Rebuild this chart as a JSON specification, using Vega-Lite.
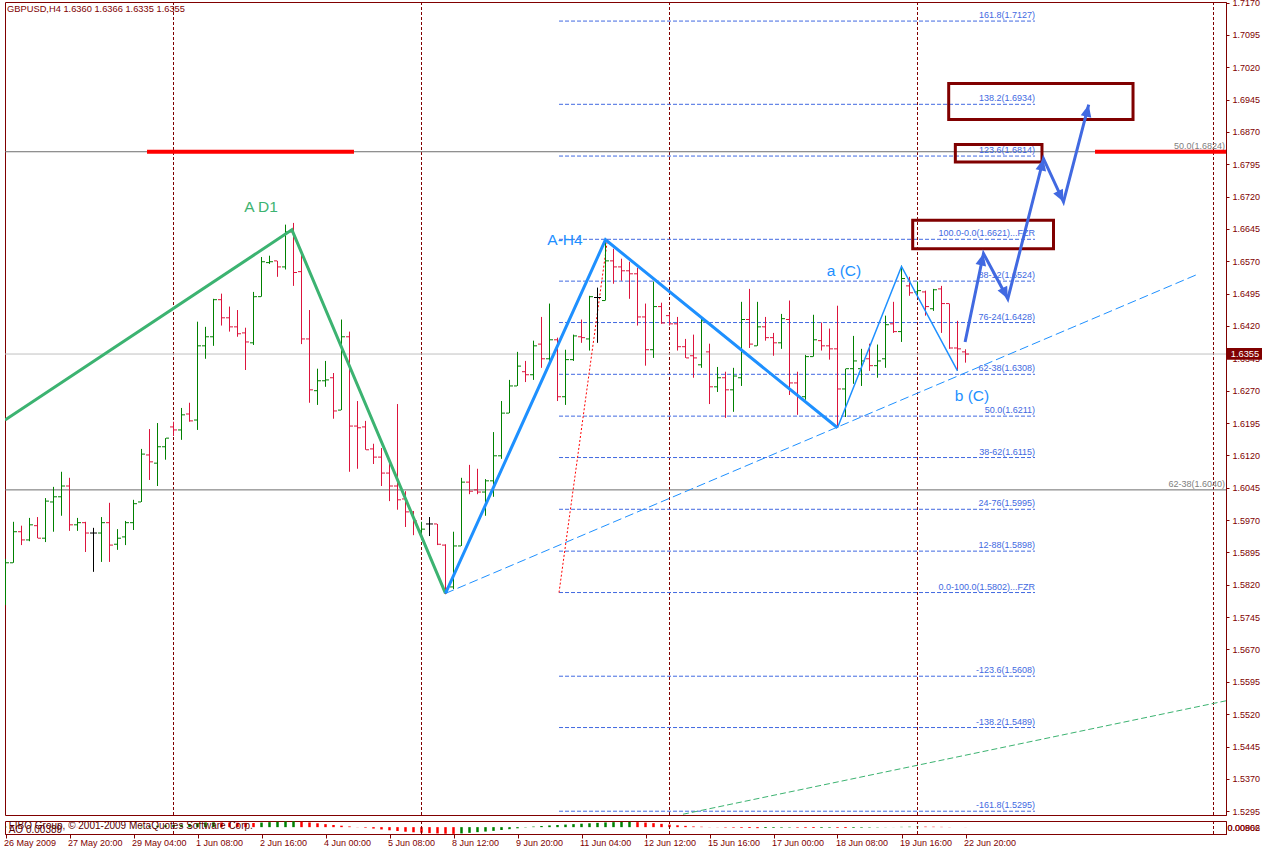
{
"$schema":"https://vega.github.io/schema/vega-lite/v6.json",
"background":"#ffffff",
"padding":{"left":3,"top":-2,"right":0,"bottom":0},
"config":{
 "view":{"stroke":"#800000","strokeWidth":1},
 "axis":{"domainColor":"#800000","tickColor":"#800000","labelColor":"#800000","labelFont":"Liberation Sans","labelFontSize":9,"grid":false,"labelOverlap":false,"labelSeparation":0},
 "concat":{"spacing":3},
 "text":{"font":"Liberation Sans"}
},
"datasets":{
 "bars":[
{"i":0,"o":1.5787,"h":1.5880,"l":1.5773,"c":1.5871},
{"i":1,"o":1.5871,"h":1.5966,"l":1.5871,"c":1.5943},
{"i":2,"o":1.5943,"h":1.5957,"l":1.5912,"c":1.5924},
{"i":3,"o":1.5924,"h":1.5975,"l":1.5921,"c":1.5959},
{"i":4,"o":1.5957,"h":1.5977,"l":1.5928,"c":1.5928},
{"i":5,"o":1.5928,"h":1.6021,"l":1.5919,"c":1.6014},
{"i":6,"o":1.6012,"h":1.6047,"l":1.5943,"c":1.6024},
{"i":7,"o":1.6024,"h":1.6082,"l":1.5980,"c":1.6049},
{"i":8,"o":1.6049,"h":1.6068,"l":1.5945,"c":1.5959},
{"i":9,"o":1.5959,"h":1.5975,"l":1.5945,"c":1.5964},
{"i":10,"o":1.5964,"h":1.5966,"l":1.5896,"c":1.5940},
{"i":11,"o":1.5940,"h":1.5952,"l":1.5850,"c":1.5940},
{"i":12,"o":1.5940,"h":1.5977,"l":1.5873,"c":1.5964},
{"i":13,"o":1.5964,"h":1.6010,"l":1.5873,"c":1.5912},
{"i":14,"o":1.5914,"h":1.5949,"l":1.5901,"c":1.5928},
{"i":15,"o":1.5931,"h":1.5968,"l":1.5912,"c":1.5964},
{"i":16,"o":1.5964,"h":1.6017,"l":1.5947,"c":1.6008},
{"i":17,"o":1.6012,"h":1.6135,"l":1.6012,"c":1.6123},
{"i":18,"o":1.6121,"h":1.6181,"l":1.6063,"c":1.6105},
{"i":19,"o":1.6102,"h":1.6195,"l":1.6049,"c":1.6140},
{"i":20,"o":1.6140,"h":1.6160,"l":1.6110,"c":1.6160},
{"i":21,"o":1.6186,"h":1.6198,"l":1.6165,"c":1.6179},
{"i":22,"o":1.6179,"h":1.6230,"l":1.6156,"c":1.6214},
{"i":23,"o":1.6216,"h":1.6242,"l":1.6198,"c":1.6200},
{"i":24,"o":1.6202,"h":1.6430,"l":1.6179,"c":1.6374},
{"i":25,"o":1.6374,"h":1.6418,"l":1.6344,"c":1.6395},
{"i":26,"o":1.6395,"h":1.6483,"l":1.6374,"c":1.6481},
{"i":27,"o":1.6481,"h":1.6495,"l":1.6421,"c":1.6439},
{"i":28,"o":1.6439,"h":1.6465,"l":1.6407,"c":1.6418},
{"i":29,"o":1.6418,"h":1.6457,"l":1.6395,"c":1.6402},
{"i":30,"o":1.6404,"h":1.6416,"l":1.6318,"c":1.6383},
{"i":31,"o":1.6381,"h":1.6499,"l":1.6376,"c":1.6488},
{"i":32,"o":1.6488,"h":1.6580,"l":1.6488,"c":1.6569},
{"i":33,"o":1.6567,"h":1.6583,"l":1.6564,"c":1.6569},
{"i":34,"o":1.6571,"h":1.6571,"l":1.6534,"c":1.6557},
{"i":35,"o":1.6557,"h":1.6655,"l":1.6551,"c":1.6638},
{"i":36,"o":1.6638,"h":1.6659,"l":1.6513,"c":1.6544},
{"i":37,"o":1.6546,"h":1.6585,"l":1.6378,"c":1.6390},
{"i":38,"o":1.6390,"h":1.6457,"l":1.6242,"c":1.6272},
{"i":39,"o":1.6270,"h":1.6321,"l":1.6237,"c":1.6293},
{"i":40,"o":1.6293,"h":1.6339,"l":1.6279,"c":1.6295},
{"i":41,"o":1.6300,"h":1.6311,"l":1.6205,"c":1.6223},
{"i":42,"o":1.6225,"h":1.6435,"l":1.6225,"c":1.6395},
{"i":43,"o":1.6395,"h":1.6407,"l":1.6082,"c":1.6188},
{"i":44,"o":1.6188,"h":1.6246,"l":1.6089,"c":1.6184},
{"i":45,"o":1.6186,"h":1.6200,"l":1.6133,"c":1.6133},
{"i":46,"o":1.6135,"h":1.6147,"l":1.6100,"c":1.6116},
{"i":47,"o":1.6116,"h":1.6137,"l":1.6049,"c":1.6079},
{"i":48,"o":1.6079,"h":1.6105,"l":1.6014,"c":1.6049},
{"i":49,"o":1.6049,"h":1.6239,"l":1.5994,"c":1.6017},
{"i":50,"o":1.6019,"h":1.6037,"l":1.5954,"c":1.5989},
{"i":51,"o":1.5989,"h":1.5991,"l":1.5935,"c":1.5968},
{"i":52,"o":1.5945,"h":1.5966,"l":1.5940,"c":1.5949},
{"i":53,"o":1.5961,"h":1.5977,"l":1.5933,"c":1.5961},
{"i":54,"o":1.5961,"h":1.5961,"l":1.5912,"c":1.5914},
{"i":55,"o":1.5912,"h":1.5914,"l":1.5798,"c":1.5812},
{"i":56,"o":1.5815,"h":1.5943,"l":1.5810,"c":1.5910},
{"i":57,"o":1.5910,"h":1.6068,"l":1.5910,"c":1.6058},
{"i":58,"o":1.6058,"h":1.6098,"l":1.6030,"c":1.6037},
{"i":59,"o":1.6040,"h":1.6089,"l":1.6030,"c":1.6035},
{"i":60,"o":1.6035,"h":1.6065,"l":1.5980,"c":1.6061},
{"i":61,"o":1.6061,"h":1.6174,"l":1.6024,"c":1.6119},
{"i":62,"o":1.6119,"h":1.6246,"l":1.6112,"c":1.6218},
{"i":63,"o":1.6218,"h":1.6295,"l":1.6218,"c":1.6281},
{"i":64,"o":1.6281,"h":1.6360,"l":1.6281,"c":1.6327},
{"i":65,"o":1.6314,"h":1.6339,"l":1.6290,"c":1.6307},
{"i":66,"o":1.6307,"h":1.6386,"l":1.6295,"c":1.6374},
{"i":67,"o":1.6378,"h":1.6441,"l":1.6323,"c":1.6344},
{"i":68,"o":1.6344,"h":1.6472,"l":1.6332,"c":1.6388},
{"i":69,"o":1.6388,"h":1.6393,"l":1.6246,"c":1.6256},
{"i":70,"o":1.6256,"h":1.6365,"l":1.6237,"c":1.6342},
{"i":71,"o":1.6342,"h":1.6400,"l":1.6339,"c":1.6397},
{"i":72,"o":1.6395,"h":1.6435,"l":1.6381,"c":1.6393},
{"i":73,"o":1.6390,"h":1.6490,"l":1.6363,"c":1.6488},
{"i":74,"o":1.6486,"h":1.6509,"l":1.6381,"c":1.6486},
{"i":75,"o":1.6479,"h":1.6618,"l":1.6479,"c":1.6571},
{"i":76,"o":1.6571,"h":1.6599,"l":1.6518,"c":1.6557},
{"i":77,"o":1.6557,"h":1.6576,"l":1.6525,"c":1.6548},
{"i":78,"o":1.6548,"h":1.6569,"l":1.6483,"c":1.6541},
{"i":79,"o":1.6541,"h":1.6555,"l":1.6421,"c":1.6441},
{"i":80,"o":1.6441,"h":1.6472,"l":1.6328,"c":1.6365},
{"i":81,"o":1.6365,"h":1.6523,"l":1.6346,"c":1.6465},
{"i":82,"o":1.6465,"h":1.6474,"l":1.6425,"c":1.6427},
{"i":83,"o":1.6444,"h":1.6448,"l":1.6421,"c":1.6425},
{"i":84,"o":1.6425,"h":1.6441,"l":1.6363,"c":1.6372},
{"i":85,"o":1.6372,"h":1.6390,"l":1.6346,"c":1.6346},
{"i":86,"o":1.6351,"h":1.6400,"l":1.6300,"c":1.6346},
{"i":87,"o":1.6330,"h":1.6437,"l":1.6323,"c":1.6432},
{"i":88,"o":1.6360,"h":1.6379,"l":1.6239,"c":1.6279},
{"i":89,"o":1.6279,"h":1.6325,"l":1.6267,"c":1.6300},
{"i":90,"o":1.6300,"h":1.6314,"l":1.6207,"c":1.6272},
{"i":91,"o":1.6272,"h":1.6323,"l":1.6221,"c":1.6304},
{"i":92,"o":1.6300,"h":1.6476,"l":1.6281,"c":1.6435},
{"i":93,"o":1.6435,"h":1.6506,"l":1.6369,"c":1.6378},
{"i":94,"o":1.6374,"h":1.6476,"l":1.6374,"c":1.6418},
{"i":95,"o":1.6418,"h":1.6441,"l":1.6386,"c":1.6393},
{"i":96,"o":1.6393,"h":1.6404,"l":1.6351,"c":1.6381},
{"i":97,"o":1.6381,"h":1.6448,"l":1.6367,"c":1.6437},
{"i":98,"o":1.6435,"h":1.6479,"l":1.6260,"c":1.6288},
{"i":99,"o":1.6288,"h":1.6314,"l":1.6214,"c":1.6256},
{"i":100,"o":1.6256,"h":1.6353,"l":1.6249,"c":1.6349},
{"i":101,"o":1.6349,"h":1.6446,"l":1.6349,"c":1.6388},
{"i":102,"o":1.6386,"h":1.6428,"l":1.6363,"c":1.6374},
{"i":103,"o":1.6374,"h":1.6414,"l":1.6342,"c":1.6367},
{"i":104,"o":1.6367,"h":1.6467,"l":1.6184,"c":1.6274},
{"i":105,"o":1.6274,"h":1.6321,"l":1.6209,"c":1.6321},
{"i":106,"o":1.6321,"h":1.6397,"l":1.6286,"c":1.6339},
{"i":107,"o":1.6321,"h":1.6367,"l":1.6281,"c":1.6339},
{"i":108,"o":1.6344,"h":1.6379,"l":1.6316,"c":1.6328},
{"i":109,"o":1.6328,"h":1.6377,"l":1.6300,"c":1.6339},
{"i":110,"o":1.6344,"h":1.6444,"l":1.6323,"c":1.6423},
{"i":111,"o":1.6425,"h":1.6476,"l":1.6404,"c":1.6407},
{"i":112,"o":1.6407,"h":1.6560,"l":1.6383,"c":1.6530},
{"i":113,"o":1.6513,"h":1.6534,"l":1.6490,"c":1.6497},
{"i":114,"o":1.6499,"h":1.6523,"l":1.6490,"c":1.6502},
{"i":115,"o":1.6499,"h":1.6502,"l":1.6444,"c":1.6465},
{"i":116,"o":1.6460,"h":1.6506,"l":1.6455,"c":1.6504},
{"i":117,"o":1.6506,"h":1.6513,"l":1.6404,"c":1.6472},
{"i":118,"o":1.6472,"h":1.6472,"l":1.6367,"c":1.6369},
{"i":119,"o":1.6369,"h":1.6432,"l":1.6316,"c":1.6367},
{"i":120,"o":1.6360,"h":1.6366,"l":1.6335,"c":1.6355}
 ],
 "ao":[
{"i":0,"ao":0.0004},{"i":1,"ao":0.0003},{"i":2,"ao":0.0002},{"i":3,"ao":0.0003},{"i":4,"ao":0.0002},{"i":5,"ao":0.0001},{"i":6,"ao":0.0003},{"i":7,"ao":0.0005},{"i":8,"ao":0.0004},{"i":9,"ao":0.0003},
{"i":10,"ao":0.0002},{"i":11,"ao":0.0001},{"i":12,"ao":-0.0001},{"i":13,"ao":-0.0002},{"i":14,"ao":-0.0001},{"i":15,"ao":0.0001},{"i":16,"ao":0.0003},{"i":17,"ao":0.0008},{"i":18,"ao":0.0014},{"i":19,"ao":0.0020},
{"i":20,"ao":0.0026},{"i":21,"ao":0.0031},{"i":22,"ao":0.0036},{"i":23,"ao":0.0045},{"i":24,"ao":0.0055},{"i":25,"ao":0.0066},{"i":26,"ao":0.0068},{"i":27,"ao":0.0066},{"i":28,"ao":0.0064},{"i":29,"ao":0.0062},
{"i":30,"ao":0.0060},{"i":31,"ao":0.0058},{"i":32,"ao":0.0064},{"i":33,"ao":0.0070},{"i":34,"ao":0.0076},{"i":35,"ao":0.0080},{"i":36,"ao":0.0082},{"i":37,"ao":0.0076},{"i":38,"ao":0.0066},{"i":39,"ao":0.0054},
{"i":40,"ao":0.0042},{"i":41,"ao":0.0030},{"i":42,"ao":0.0020},{"i":43,"ao":0.0010},{"i":44,"ao":0.0002},{"i":45,"ao":-0.0008},{"i":46,"ao":-0.0020},{"i":47,"ao":-0.0032},{"i":48,"ao":-0.0044},{"i":49,"ao":-0.0054},
{"i":50,"ao":-0.0064},{"i":51,"ao":-0.0072},{"i":52,"ao":-0.0078},{"i":53,"ao":-0.0084},{"i":54,"ao":-0.0088},{"i":55,"ao":-0.0092},{"i":56,"ao":-0.0094},{"i":57,"ao":-0.0088},{"i":58,"ao":-0.0080},{"i":59,"ao":-0.0070},
{"i":60,"ao":-0.0062},{"i":61,"ao":-0.0052},{"i":62,"ao":-0.0040},{"i":63,"ao":-0.0028},{"i":64,"ao":-0.0016},{"i":65,"ao":-0.0004},{"i":66,"ao":0.0008},{"i":67,"ao":0.0016},{"i":68,"ao":0.0024},{"i":69,"ao":0.0030},
{"i":70,"ao":0.0036},{"i":71,"ao":0.0042},{"i":72,"ao":0.0048},{"i":73,"ao":0.0054},{"i":74,"ao":0.0060},{"i":75,"ao":0.0066},{"i":76,"ao":0.0070},{"i":77,"ao":0.0072},{"i":78,"ao":0.0074},{"i":79,"ao":0.0070},
{"i":80,"ao":0.0064},{"i":81,"ao":0.0056},{"i":82,"ao":0.0046},{"i":83,"ao":0.0036},{"i":84,"ao":0.0026},{"i":85,"ao":0.0018},{"i":86,"ao":0.0010},{"i":87,"ao":0.0006},{"i":88,"ao":0.0002},{"i":89,"ao":-0.0002},
{"i":90,"ao":-0.0006},{"i":91,"ao":-0.0008},{"i":92,"ao":-0.0010},{"i":93,"ao":-0.0012},{"i":94,"ao":-0.0014},{"i":95,"ao":-0.0012},{"i":96,"ao":-0.0010},{"i":97,"ao":-0.0008},{"i":98,"ao":-0.0006},{"i":99,"ao":-0.0008},
{"i":100,"ao":-0.0010},{"i":101,"ao":-0.0012},{"i":102,"ao":-0.0010},{"i":103,"ao":-0.0008},{"i":104,"ao":-0.0010},{"i":105,"ao":-0.0012},{"i":106,"ao":-0.0010},{"i":107,"ao":-0.0008},{"i":108,"ao":-0.0006},{"i":109,"ao":-0.0004},
{"i":110,"ao":-0.0002},{"i":111,"ao":0.0001},{"i":112,"ao":0.0004},{"i":113,"ao":0.0006},{"i":114,"ao":0.0008},{"i":115,"ao":0.0007},{"i":116,"ao":0.0006},{"i":117,"ao":0.0004},{"i":118,"ao":0.0002},{"i":119,"ao":0.0000},
{"i":120,"ao":-0.0001}
 ],
 "sep":[{"i":21},{"i":52},{"i":83},{"i":114},{"i":151}],
 "fib":[
{"p":1.7127,"t":"161.8(1.7127)"},
{"p":1.6934,"t":"138.2(1.6934)"},
{"p":1.6814,"t":"123.6(1.6814)"},
{"p":1.6621,"t":"100.0-0.0(1.6621)...FZR"},
{"p":1.6524,"t":"88-12(1.6524)"},
{"p":1.6428,"t":"76-24(1.6428)"},
{"p":1.6308,"t":"62-38(1.6308)"},
{"p":1.6211,"t":"50.0(1.6211)"},
{"p":1.6115,"t":"38-62(1.6115)"},
{"p":1.5995,"t":"24-76(1.5995)"},
{"p":1.5898,"t":"12-88(1.5898)"},
{"p":1.5802,"t":"0.0-100.0(1.5802)...FZR"},
{"p":1.5608,"t":"-123.6(1.5608)"},
{"p":1.5489,"t":"-138.2(1.5489)"},
{"p":1.5295,"t":"-161.8(1.5295)"}
 ],
 "levels":[{"p":1.6824,"t":"50.0(1.6824)"},{"p":1.6040,"t":"62-38(1.6040)"}],
 "redseg":[{"a":17.69,"b":43.56,"p":1.6824},{"a":136.19,"b":152.56,"p":1.6824}],
 "boxes":[{"a":117.9,"b":140.94,"p1":1.6982,"p2":1.6899},{"a":118.73,"b":129.56,"p1":1.6841,"p2":1.6800},{"a":113.4,"b":131.0,"p1":1.6665,"p2":1.6599}],
 "d1":[{"i":-0.06,"p":1.6202},{"i":35.8,"p":1.6643},{"i":55,"p":1.5800}],
 "h4":[{"i":55,"p":1.5800},{"i":75,"p":1.6620},{"i":104,"p":1.6184}],
 "wc":[{"i":104,"p":1.6184},{"i":112,"p":1.6558},{"i":119,"p":1.6316}],
 "fibdiag":[{"i":69.19,"p":1.5802},{"i":75.25,"p":1.6621}],
 "trendb":[{"i":55,"p":1.5800},{"i":148.9,"p":1.6539}],
 "trendg":[{"i":84.69,"p":1.5288},{"i":152.56,"p":1.5551}],
 "arrow":[{"i":119.95,"p":1.6383,"k":"start"},{"i":122.25,"p":1.6588,"k":"top"},{"i":125.29,"p":1.6483,"k":"bottom"},{"i":129.75,"p":1.6808,"k":"top"},{"i":132.25,"p":1.6708,"k":"bottom"},{"i":135.4,"p":1.6933,"k":"top"}],
 "waves":[{"i":31.94,"p":1.6696,"t":"A D1"},{"i":69.94,"p":1.6619,"t":"A-H4"},{"i":104.81,"p":1.6548,"t":"a (C)"},{"i":120.81,"p":1.6258,"t":"b (C)"}]
},
"vconcat":[
{"width":1221,"height":813,
 "layer":[
  {"data":{"name":"sep"},"mark":{"type":"rule","color":"#800000","strokeDash":[3,2],"strokeWidth":1,"clip":true},
   "encoding":{"x":{"field":"i","type":"quantitative","title":null,"scale":{"domain":[-0.0625,152.5625],"nice":false,"zero":false},"axis":{"labels":false,"ticks":false,"domain":false,"title":null}}}},
  {"data":{"values":[{"p":1.6355}]},"mark":{"type":"rule","color":"#C0C0C0","strokeWidth":1,"clip":true},
   "encoding":{"y":{"field":"p","type":"quantitative","title":null,"scale":{"domain":[1.52862,1.71712],"nice":false,"zero":false},
     "axis":{"orient":"right","values":[1.5295,1.5370,1.5445,1.5520,1.5595,1.5670,1.5745,1.5820,1.5895,1.5970,1.6045,1.6120,1.6195,1.6270,1.6345,1.6420,1.6495,1.6570,1.6645,1.6720,1.6795,1.6870,1.6945,1.7020,1.7095,1.7170],"tickCount":60,"format":".4f","tickSize":3,"labelPadding":3,"labelFlush":false,"labelOverlap":false,"labelSeparation":0,"labelBound":false,"title":null}}}},
  {"data":{"name":"levels"},"mark":{"type":"rule","color":"#6E6E6E","strokeWidth":1,"clip":true},
   "encoding":{"y":{"field":"p","type":"quantitative"}}},
  {"data":{"name":"levels"},"mark":{"type":"text","color":"#808080","fontSize":9,"align":"right","baseline":"bottom","dy":-1,"clip":true},
   "encoding":{"x":{"datum":152.45},"y":{"field":"p","type":"quantitative"},"text":{"field":"t"}}},
  {"data":{"name":"fib"},"mark":{"type":"rule","color":"#4169E1","strokeDash":[4,2],"strokeWidth":1},
   "encoding":{"x":{"datum":69.19},"x2":{"datum":128.69},"y":{"field":"p","type":"quantitative"}}},
  {"data":{"name":"fib"},"mark":{"type":"text","color":"#4169E1","fontSize":9,"align":"right","baseline":"bottom","dy":-1},
   "encoding":{"x":{"datum":128.69},"y":{"field":"p","type":"quantitative"},"text":{"field":"t"}}},
  {"data":{"name":"fibdiag"},"mark":{"type":"line","color":"#FF0000","strokeDash":[2,2],"strokeWidth":1},
   "encoding":{"x":{"field":"i","type":"quantitative"},"y":{"field":"p","type":"quantitative"}}},
  {"data":{"name":"trendb"},"mark":{"type":"line","color":"#1E90FF","strokeDash":[9,4],"strokeWidth":1},
   "encoding":{"x":{"field":"i","type":"quantitative"},"y":{"field":"p","type":"quantitative"}}},
  {"data":{"name":"trendg"},"mark":{"type":"line","color":"#3CB371","strokeDash":[6,3],"strokeWidth":1,"clip":true},
   "encoding":{"x":{"field":"i","type":"quantitative"},"y":{"field":"p","type":"quantitative"}}},
  {"data":{"name":"bars"},"mark":{"type":"rule","strokeWidth":1,"clip":true},
   "encoding":{"x":{"field":"i","type":"quantitative"},"y":{"field":"l","type":"quantitative"},"y2":{"field":"h"},
     "color":{"condition":[{"test":"datum.c>datum.o","value":"#008000"},{"test":"datum.c==datum.o","value":"#000000"}],"value":"#DC143C"}}},
  {"data":{"name":"bars"},"mark":{"type":"tick","orient":"horizontal","size":3,"thickness":1,"xOffset":-2,"opacity":1,"clip":true},
   "encoding":{"x":{"field":"i","type":"quantitative"},"y":{"field":"o","type":"quantitative"},
     "color":{"condition":[{"test":"datum.c>datum.o","value":"#008000"},{"test":"datum.c==datum.o","value":"#000000"}],"value":"#DC143C"}}},
  {"data":{"name":"bars"},"mark":{"type":"tick","orient":"horizontal","size":3,"thickness":1,"xOffset":2,"opacity":1,"clip":true},
   "encoding":{"x":{"field":"i","type":"quantitative"},"y":{"field":"c","type":"quantitative"},
     "color":{"condition":[{"test":"datum.c>datum.o","value":"#008000"},{"test":"datum.c==datum.o","value":"#000000"}],"value":"#DC143C"}}},
  {"data":{"name":"redseg"},"mark":{"type":"rule","color":"#FF0000","strokeWidth":4,"clip":true},
   "encoding":{"x":{"field":"a","type":"quantitative"},"x2":{"field":"b"},"y":{"field":"p","type":"quantitative"}}},
  {"data":{"name":"d1"},"mark":{"type":"line","color":"#3CB371","strokeWidth":3,"clip":true},
   "encoding":{"x":{"field":"i","type":"quantitative"},"y":{"field":"p","type":"quantitative"}}},
  {"data":{"name":"h4"},"mark":{"type":"line","color":"#1E90FF","strokeWidth":3},
   "encoding":{"x":{"field":"i","type":"quantitative"},"y":{"field":"p","type":"quantitative"}}},
  {"data":{"name":"wc"},"mark":{"type":"line","color":"#1E90FF","strokeWidth":1.5},
   "encoding":{"x":{"field":"i","type":"quantitative"},"y":{"field":"p","type":"quantitative"}}},
  {"data":{"name":"boxes"},"mark":{"type":"rect","fillOpacity":0,"stroke":"#800000","strokeWidth":3},
   "encoding":{"x":{"field":"a","type":"quantitative"},"x2":{"field":"b"},"y":{"field":"p1","type":"quantitative"},"y2":{"field":"p2"}}},
  {"data":{"name":"arrow"},"mark":{"type":"line","color":"#4169E1","strokeWidth":3},
   "encoding":{"x":{"field":"i","type":"quantitative"},"y":{"field":"p","type":"quantitative"}}},
  {"data":{"name":"arrow"},"transform":[{"filter":"datum.k=='top'"}],"mark":{"type":"point","shape":"M0,0L-0.9,2L0.9,2Z","filled":true,"size":144,"angle":13,"color":"#4169E1","opacity":1},
   "encoding":{"x":{"field":"i","type":"quantitative"},"y":{"field":"p","type":"quantitative"}}},
  {"data":{"name":"arrow"},"transform":[{"filter":"datum.k=='bottom'"}],"mark":{"type":"point","shape":"M0,0L-0.9,2L0.9,2Z","filled":true,"size":144,"angle":153,"color":"#4169E1","opacity":1},
   "encoding":{"x":{"field":"i","type":"quantitative"},"y":{"field":"p","type":"quantitative"}}},
  {"data":{"name":"waves"},"mark":{"type":"text","fontSize":15.5,"align":"center","baseline":"middle"},
   "encoding":{"x":{"field":"i","type":"quantitative"},"y":{"field":"p","type":"quantitative"},"text":{"field":"t"},
     "color":{"condition":{"test":"datum.t=='A D1'","value":"#3CB371"},"value":"#1E90FF"}}},
  {"data":{"values":[{"t":"GBPUSD,H4  1.6360 1.6366 1.6335 1.6355"}]},"mark":{"type":"text","fontSize":9.3,"align":"left","baseline":"middle","color":"#800000","clip":true},
   "encoding":{"x":{"datum":0.2},"y":{"datum":1.7155},"text":{"field":"t"}}},
  {"data":{"values":[{"p":1.6355}]},"mark":{"type":"rect","color":"#800000","clip":false},
   "encoding":{"x":{"datum":152.66},"x2":{"datum":157.2},"y":{"datum":1.6369},"y2":{"datum":1.6342}}},
  {"data":{"values":[{"p":1.6355}]},"mark":{"type":"text","color":"#ffffff","fontSize":9.3,"align":"center","baseline":"middle","clip":false},
   "encoding":{"x":{"datum":154.93},"y":{"field":"p","type":"quantitative"},"text":{"field":"p","format":".4f"}}}
 ]},
{"width":1221,"height":13,
 "layer":[
  {"data":{"name":"ao"},"transform":[{"window":[{"op":"lag","field":"ao","as":"prev"}],"sort":[{"field":"i"}]}],
   "mark":{"type":"rule","strokeWidth":2.5,"clip":true},
   "encoding":{
     "x":{"field":"i","type":"quantitative","title":null,"scale":{"domain":[-0.0625,152.5625],"nice":false,"zero":false},
       "axis":{"orient":"bottom","values":[0,8,16,24,32,40,48,56,64,72,80,88,96,104,112,120],"tickCount":60,
         "labelExpr":"['26 May 2009','27 May 20:00','29 May 04:00','1 Jun 08:00','2 Jun 16:00','4 Jun 00:00','5 Jun 08:00','8 Jun 12:00','9 Jun 20:00','11 Jun 04:00','12 Jun 12:00','15 Jun 16:00','17 Jun 00:00','18 Jun 08:00','19 Jun 16:00','22 Jun 20:00'][round(datum.value/8)]",
         "tickSize":4,"labelAlign":"left","labelBaseline":"top","labelPadding":0,"labelOffset":-2,"labelFlush":false,"labelOverlap":false,"labelBound":false,"title":null}},
     "y":{"field":"ao","type":"quantitative","title":null,"scale":{"domain":[-0.0096,0.0086],"nice":false,"zero":false},
       "axis":{"orient":"right","values":[0.0002,-0.0002],"tickCount":10,"labelExpr":"datum.value>0?'0.00866':'0.00902'","ticks":false,"labelPadding":1,"labelFlush":false,"labelOverlap":false,"labelBound":false,"title":null}},
     "y2":{"datum":0},
     "color":{"condition":{"test":"datum.prev==null || datum.ao>=datum.prev","value":"#008000"},"value":"#FF0000"}}},
  {"data":{"name":"sep"},"mark":{"type":"rule","color":"#800000","strokeDash":[3,2],"strokeWidth":1,"clip":true},
   "encoding":{"x":{"field":"i","type":"quantitative"}}},
  {"data":{"values":[{"t":"FIBO Group, © 2001-2009 MetaQuotes Software Corp.","v":0.0021},{"t":"AO 0.00389","v":-0.0044}]},
   "mark":{"type":"text","fontSize":10,"align":"left","baseline":"middle","color":"#5A0000","clip":true},
   "encoding":{"x":{"datum":0.4},"y":{"field":"v","type":"quantitative"},"text":{"field":"t"}}}
 ]}
]
}
